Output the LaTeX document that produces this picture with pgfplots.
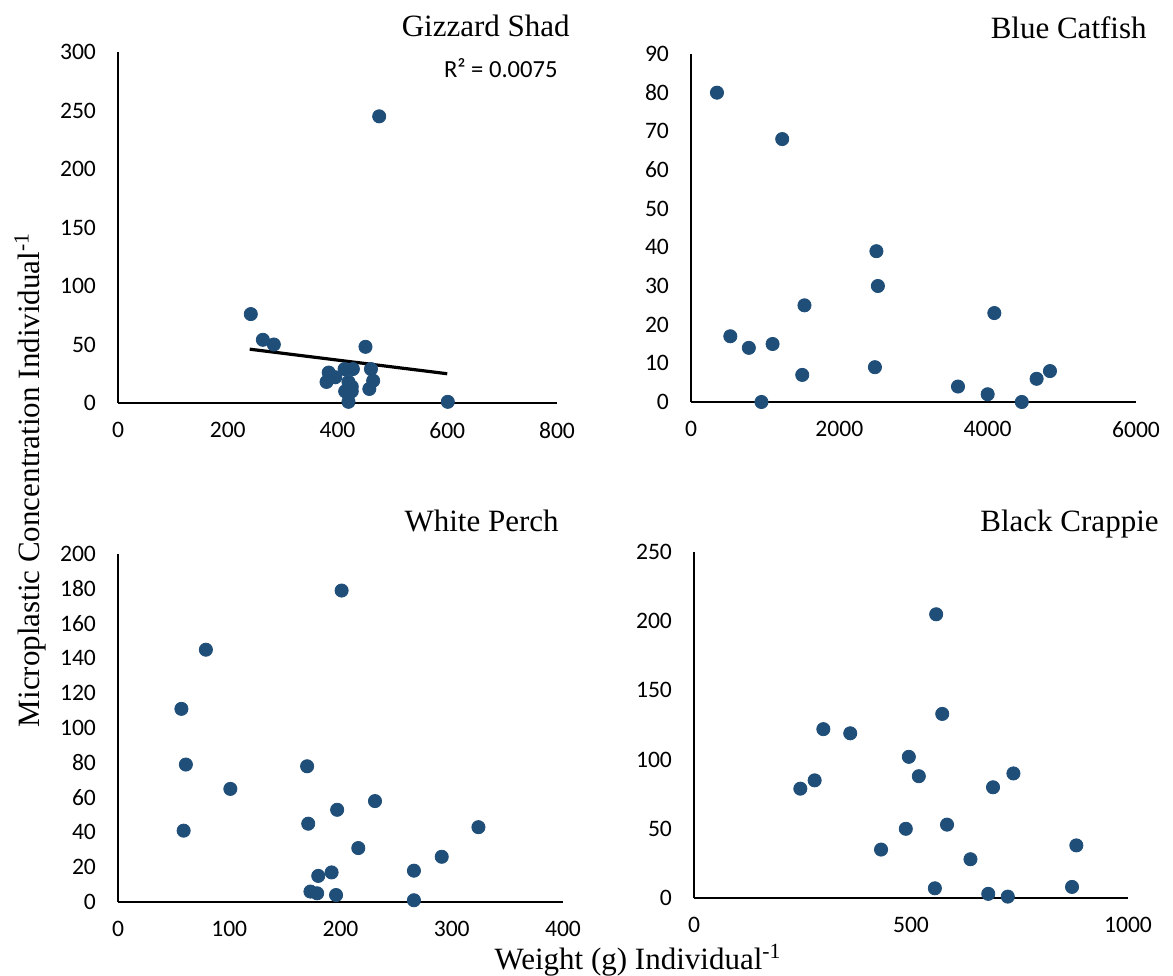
\documentclass[border=0pt]{standalone}
\usepackage{fontspec}
\setmainfont{Liberation Serif}
\newfontfamily\calibri{Carlito}
\usepackage{pgfplots}
\pgfplotsset{compat=1.18}

\definecolor{dotblue}{RGB}{31,78,121}

\pgfplotsset{
  panel/.style={
    scale only axis,
    anchor=south west,
    axis lines*=left,
    axis line style={black, line width=1pt},
    major tick length=0pt,
    xmin=0, ymin=0,
    clip=false,
    tick label style={font=\calibri\fontsize{11.8}{14}\selectfont},
    /pgf/number format/assume math mode=true,
    /pgf/number format/set thousands separator={},
    yticklabel style={xshift=-7.5pt},
    xticklabel style={yshift=-6.3pt},
  },
  dots/.style={only marks, mark=*, mark size=3.3pt, color=dotblue},
}

\begin{document}
\begin{tikzpicture}
\useasboundingbox (0pt,0pt) rectangle (586.5pt,487.5pt);

% Gizzard Shad
\begin{axis}[panel, at={(59pt,286pt)}, width=219.5pt, height=175.5pt,
  xmax=800, ymax=300, xtick={0,200,...,800}, ytick={0,50,...,300}]
  \addplot[dots] coordinates {
    (476,245) (242,76) (264,54) (284,50) (451,48) (384,26) (380,18)
    (396,22) (413,29) (428,29) (420,18) (461,29) (465,19) (458,12)
    (414,10) (426,10) (426,14) (420,1) (601,1)
  };
  \addplot[black, line width=1.6pt] coordinates {(240,46) (600,25)};
\end{axis}

% Blue Catfish
\begin{axis}[panel, at={(345.5pt,286.5pt)}, width=222.5pt, height=174pt,
  xmax=6000, ymax=90, xtick={0,2000,4000,6000}, ytick={0,10,...,90}]
  \addplot[dots] coordinates {
    (350,80) (1230,68) (2500,39) (2520,30) (1530,25) (530,17) (780,14)
    (1100,15) (1500,7) (2480,9) (950,0) (4090,23) (3600,4) (4000,2)
    (4460,0) (4660,6) (4840,8)
  };
\end{axis}

% White Perch
\begin{axis}[panel, at={(59pt,36.5pt)}, width=222.5pt, height=174pt,
  xmax=400, ymax=200, xtick={0,100,...,400}, ytick={0,20,...,200}]
  \addplot[dots] coordinates {
    (201,179) (79,145) (57,111) (61,79) (59,41) (101,65) (170,78)
    (171,45) (197,53) (231,58) (216,31) (324,43) (291,26) (266,18)
    (266,1) (180,15) (192,17) (173,6) (179,5) (196,4)
  };
\end{axis}

% Black Crappie
\begin{axis}[panel, at={(347pt,38.5pt)}, width=217pt, height=173pt,
  xmax=1000, ymax=250, xtick={0,500,1000}, ytick={0,50,...,250}]
  \addplot[dots] coordinates {
    (558,205) (572,133) (298,122) (360,119) (495,102) (518,88) (736,90)
    (689,80) (278,85) (245,79) (488,50) (583,53) (431,35) (637,28)
    (881,38) (555,7) (678,3) (723,1) (871,8)
  };
\end{axis}

% panel titles
\node[anchor=base east, font=\fontsize{15.5}{18}\selectfont, inner sep=0pt] at (285pt,469pt) {Gizzard Shad};
\node[anchor=base east, font=\fontsize{15.5}{18}\selectfont, inner sep=0pt] at (573.5pt,468pt) {Blue Catfish};
\node[anchor=base east, font=\fontsize{15.5}{18}\selectfont, inner sep=0pt] at (279.5pt,221.5pt) {White Perch};
\node[anchor=base east, font=\fontsize{15.5}{18}\selectfont, inner sep=0pt] at (579.5pt,221.5pt) {Black Crappie};

% R squared
\node[anchor=base east, font=\calibri\fontsize{12.3}{14}\selectfont, inner sep=0pt] at (279pt,448.5pt) {R² = 0.0075};

% shared axis labels
\node[rotate=90, font=\fontsize{15.5}{18}\selectfont, inner sep=0pt] at (15pt,247.5pt) {Microplastic Concentration Individual\textsuperscript{-1}};
\node[anchor=base, font=\fontsize{15.5}{18}\selectfont, inner sep=0pt] at (319pt,3pt) {Weight (g) Individual\textsuperscript{-1}};
\end{tikzpicture}
\end{document}
